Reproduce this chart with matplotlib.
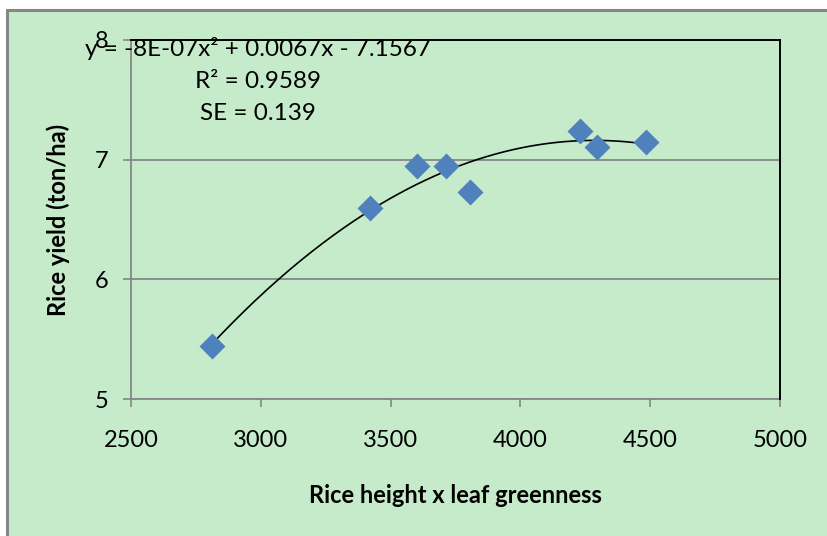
import numpy as np
import matplotlib
matplotlib.use("Agg")
import matplotlib.pyplot as plt
from matplotlib.patches import Rectangle

plt.rcParams['font.family'] = ['Lato', 'DejaVu Sans']

# Data
x_vals = [2813, 3422, 3603, 3713, 3806, 4231, 4294, 4483]
y_vals = [5.44, 6.60, 6.95, 6.95, 6.73, 7.24, 7.11, 7.15]
x_ticks = [2500, 3000, 3500, 4000, 4500, 5000]
y_ticks = [5, 6, 7, 8]
eq_text = "y = -8E-07x² + 0.0067x - 7.1567"
r2_text = "R² = 0.9589"
se_text = "SE = 0.139"
x_label = "Rice height x leaf greenness"
y_label = "Rice yield (ton/ha)"

W, H = 827, 536
bg = '#C6EBCB'
grey = '#868686'
fs = 17

fig = plt.figure(figsize=(W / 100, H / 100), dpi=100)
fig.patch.set_facecolor('white')

# chart area with grey border (cropped at right/bottom)
fig.patches.append(Rectangle((7 / W, -0.05), 1.1, 1 - 10 / H + 0.05,
                             transform=fig.transFigure, facecolor=bg,
                             edgecolor=grey, linewidth=2.2, zorder=-5))

ax = fig.add_axes([131 / W, 1 - 399 / H, (780 - 131) / W, (399 - 40) / H])
ax.set_zorder(1)
ax.set_facecolor(bg)
ax.set_xlim(2500, 5000)
ax.set_ylim(5, 8)
ax.set_xticks(x_ticks)
ax.set_yticks(y_ticks)
ax.yaxis.grid(True, color=grey, linewidth=1.3)
ax.set_axisbelow(True)

for s in ['left', 'bottom']:
    ax.spines[s].set_color(grey)
    ax.spines[s].set_linewidth(1.3)
for s in ['top', 'right']:
    ax.spines[s].set_color('black')
    ax.spines[s].set_linewidth(1.4)
    ax.spines[s].set_zorder(3)

ax.tick_params(axis='both', direction='out', length=6, width=1.2, color=grey,
               labelsize=fs, labelcolor='black')
ax.tick_params(axis='y', pad=10)
ax.tick_params(axis='x', pad=16)

# quadratic trend line
coef = np.polyfit(x_vals, y_vals, 2)
xs = np.linspace(min(x_vals), max(x_vals), 200)
ax.plot(xs, np.polyval(coef, xs), color='black', linewidth=1.2, zorder=2)

ax.scatter(x_vals, y_vals, marker='D', s=175, color='#4F81BD', zorder=3,
           linewidths=0)

ax.set_xlabel(x_label, fontsize=fs, fontweight='bold', labelpad=24)
ax.set_ylabel(y_label, fontsize=fs, fontweight='bold', labelpad=18)

cx = 258 / W
fig.text(cx, 1 - 48 / H, eq_text, ha='center', va='center', fontsize=fs + 0.5, zorder=5)
fig.text(cx, 1 - 81 / H, r2_text, ha='center', va='center', fontsize=fs + 0.5, zorder=5)
fig.text(cx, 1 - 114 / H, se_text, ha='center', va='center', fontsize=fs + 0.5, zorder=5)

fig.savefig('out.png', dpi=100, facecolor=fig.get_facecolor())
